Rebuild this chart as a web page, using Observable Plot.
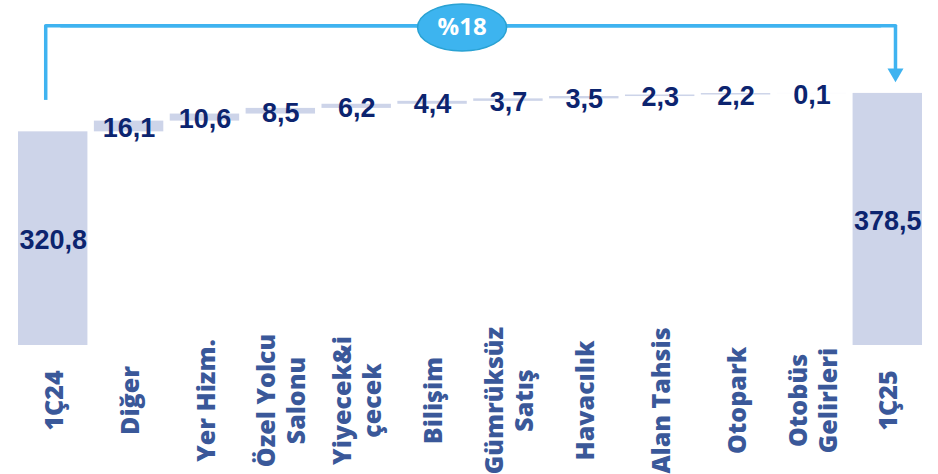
<!DOCTYPE html>
<html><head><meta charset="utf-8">
<script src="https://cdn.jsdelivr.net/npm/d3@7"></script>
<script src="https://cdn.jsdelivr.net/npm/@observablehq/plot@0.6"></script>
<style>body{margin:0;background:#fff} #chart svg{display:block}</style>
</head><body><div id="chart"></div>
<script>
// ---- data ----
const categories = ["1Ç24","Diğer","Yer Hizm.","Özel Yolcu\nSalonu","Yiyecek&i\nçecek","Bilişim","Gümrüksüz\nSatış","Havacılık","Alan Tahsis","Otopark","Otobüs\nGelirleri","1Ç25"];
const values = [320.8, 16.1, 10.6, 8.5, 6.2, 4.4, 3.7, 3.5, 2.3, 2.2, 0.1, 378.5];
const totalCategories = ["1Ç24", "1Ç25"];
const growthLabel = "%18";
// bracket levels (value units)
const bracketTop = 480, bracketStart = 368, arrowLevel = 409, badgeLevel = 477.5;

// ---- waterfall ----
let cum = 0;
const rows = categories.map((c, i) => {
  const v = values[i];
  let y1, y2;
  if (totalCategories.includes(c)) { y1 = 0; y2 = v; cum = v; }
  else { y1 = cum; y2 = cum + v; cum = y2; }
  return {cat: c, y1, y2, label: v.toFixed(1).replace(".", ",")};
});
const first = categories[0], last = categories[categories.length - 1];

const blue = "#3fb3f0";
const arrowSymbol = {draw(ctx) { ctx.moveTo(-8, -4.6); ctx.lineTo(8, -4.6); ctx.lineTo(0, 9.2); ctx.closePath(); }};
const ellipseSymbol = {draw(ctx) {
  const rx = 44.5, ry = 23.5, k = 0.5523;
  ctx.moveTo(-rx, 0);
  ctx.bezierCurveTo(-rx, -ry * k, -rx * k, -ry, 0, -ry);
  ctx.bezierCurveTo(rx * k, -ry, rx, -ry * k, rx, 0);
  ctx.bezierCurveTo(rx, ry * k, rx * k, ry, 0, ry);
  ctx.bezierCurveTo(-rx * k, ry, -rx, ry * k, -rx, 0);
  ctx.closePath();
}};

const chart = Plot.plot({
  width: 938, height: 474,
  marginLeft: 18, marginRight: 16, marginTop: 0, marginBottom: 129,
  x: {domain: categories, paddingInner: 0.085, paddingOuter: 0, round: false, axis: null},
  y: {domain: [0, 518], axis: null},
  style: {background: "white", overflow: "visible"},
  marks: [
    Plot.barY(rows, {x: "cat", y1: "y1", y2: "y2", fill: "#cdd4e9"}),
    // bracket
    Plot.ruleX([first], {x: d => d, y1: bracketStart, y2: bracketTop, dx: -7.5, stroke: blue, strokeWidth: 3.5}),
    Plot.line([{c: first, v: bracketTop}, {c: last, v: bracketTop}], {x: "c", y: "v", dx: -7.5, stroke: blue, strokeWidth: 3.5}),
    Plot.line([{c: first, v: bracketTop}, {c: last, v: bracketTop}], {x: "c", y: "v", dx: 7.7, stroke: blue, strokeWidth: 3.5}),
    Plot.ruleX([last], {x: d => d, y1: bracketTop, y2: arrowLevel, dx: 7.7, stroke: blue, strokeWidth: 3.5}),
    Plot.dot([last], {x: d => d, y: arrowLevel, dx: 7.7, symbol: arrowSymbol, r: 5, fill: blue, stroke: "none"}),
    // badge
    Plot.dot(["Bilişim"], {x: d => d, y: badgeLevel, dx: 29.5, symbol: ellipseSymbol, r: 5, fill: "#3db4ef", stroke: "#2aa2d3", strokeWidth: 1.5}),
    Plot.text([growthLabel], {x: () => "Bilişim", y: badgeLevel, dx: 29.5, text: d => d, fill: "white", fontSize: 24, fontWeight: "bold", fontFamily: "Open Sans", textAnchor: "middle", lineAnchor: "middle"}),
    // value labels
    Plot.text(rows, {x: "cat", y: d => (d.y1 + d.y2) / 2, text: "label", dy: 2, fill: "#0c246f", fontSize: 27, fontWeight: "bold", fontFamily: "Liberation Sans", textAnchor: "middle", lineAnchor: "middle"}),
    // category labels
    Plot.text(categories, {x: d => d, frameAnchor: "bottom", text: d => d, rotate: -90, dy: 55, textAnchor: "middle", lineAnchor: "middle", lineHeight: 1.2, fill: "#3a5899", fontSize: 25, fontWeight: 800, fontFamily: "Open Sans"})
  ]
});
document.getElementById("chart").appendChild(chart);
</script>
</body></html>
